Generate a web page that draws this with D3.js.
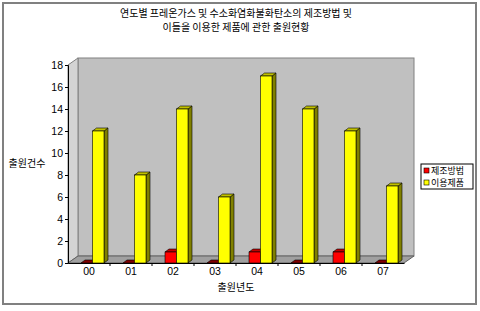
<!DOCTYPE html>
<html><head><meta charset="utf-8">
<script src="https://cdn.jsdelivr.net/npm/d3@7"></script>
<style>body{margin:0;background:#fff}svg{display:block}</style>
</head><body>
<script>
const titleLines = ["연도별 프레온가스 및 수소화염화불화탄소의 제조방법 및", "이들을 이용한 제품에 관한 출원현황"];
const categories = ["00","01","02","03","04","05","06","07"];
const seriesNames = ["제조방법","이용제품"];
const seriesMethod = [0,0,1,0,1,0,1,0];
const seriesProduct = [12,8,14,6,17,14,12,7];
const yTicks = [0,2,4,6,8,10,12,14,16,18];
const xTitle = "출원년도";
const yTitle = "출원건수";

const W=480,H=311;
const svg=d3.select("body").append("svg").attr("width",W).attr("height",H);
const font="'Noto Sans CJK KR', sans-serif";
const numFont="'Liberation Sans', Arial, sans-serif";

// outer border
svg.append("rect").attr("x",3).attr("y",3).attr("width",473).attr("height",301)
  .attr("fill","#fff").attr("stroke","#808080").attr("stroke-width",2);

const x0=68,x1=404,yb=263,yt=65;
const dx=10,dy=-7;
const x=d3.scaleBand().domain(categories).range([x0,x1]);
const xs=d3.scaleBand().domain(seriesNames).range([13,36]);
const y=d3.scaleLinear().domain([0,18]).range([yb,yt]);

// back wall
svg.append("rect").attr("x",x0+dx).attr("y",yt+dy).attr("width",x1-x0).attr("height",yb-yt)
  .attr("fill","#c0c0c0").attr("stroke","#808080").attr("stroke-width",1);
// left wall
svg.append("path").attr("d",`M${x0},${yb}L${x0},${yt}L${x0+dx},${yt+dy}L${x0+dx},${yb+dy}Z`)
  .attr("fill","#d4d4d4").attr("stroke","#808080").attr("stroke-width",1);
// floor
svg.append("path").attr("d",`M${x0},${yb}L${x0+dx},${yb+dy}L${x1+dx},${yb+dy}L${x1},${yb}Z`)
  .attr("fill","#a0a0a0").attr("stroke","#606060").attr("stroke-width",1);

// bars
const bdx=4,bdy=-3;
const colors={"제조방법":{f:"#ff0000",s:"#800000",t:"#c00000"},"이용제품":{f:"#ffff00",s:"#808000",t:"#c0c000"}};
const data=[];
categories.forEach((c,i)=>{
  data.push({c,s:"제조방법",v:seriesMethod[i]});
  data.push({c,s:"이용제품",v:seriesProduct[i]});
});
const g=svg.append("g");
data.forEach(d=>{
  const bx=x(d.c)+xs(d.s), bw=xs.bandwidth(), ty=y(d.v), by=y(0);
  const col=colors[d.s];
  g.append("path").attr("d",`M${bx+bw},${by}L${bx+bw},${ty}L${bx+bw+bdx},${ty+bdy}L${bx+bw+bdx},${by+bdy}Z`)
    .attr("fill",col.s).attr("stroke","#000").attr("stroke-width",0.6);
  g.append("path").attr("d",`M${bx},${ty}L${bx+bdx},${ty+bdy}L${bx+bw+bdx},${ty+bdy}L${bx+bw},${ty}Z`)
    .attr("fill",d.v===0?col.s:col.t).attr("stroke","#000").attr("stroke-width",0.6);
  if(d.v>0){
    g.append("rect").attr("x",bx).attr("y",ty).attr("width",bw).attr("height",by-ty)
      .attr("fill",col.f).attr("stroke","#000").attr("stroke-width",0.6);
  }
});

// y axis
const yAxis=d3.axisLeft(y).tickValues(yTicks).tickSize(3).tickPadding(2);
const ya=svg.append("g").attr("transform",`translate(${x0},0)`).call(yAxis);
ya.select(".domain").attr("stroke","#000");
ya.selectAll("text").attr("font-family",numFont).attr("font-size",10.5).attr("fill","#000");

// x axis
const xAxis=d3.axisBottom(x).tickSize(0).tickPadding(5);
const xa=svg.append("g").attr("transform",`translate(0,${yb})`).call(xAxis);
xa.select(".domain").attr("stroke","#000");
xa.selectAll("text").attr("font-family",numFont).attr("font-size",10.5).attr("fill","#000");
xa.selectAll(".bt").data(categories.slice(1)).enter().append("line")
  .attr("x1",d=>x(d)).attr("x2",d=>x(d)).attr("y1",0).attr("y2",3).attr("stroke","#000");

// titles
svg.selectAll(".title").data(titleLines).enter().append("text")
  .attr("x",236).attr("y",(d,i)=>17+i*14).attr("text-anchor","middle")
  .attr("font-family",font).attr("font-size",10).attr("fill","#000").text(d=>d);
svg.append("text").attr("x",236).attr("y",291).attr("text-anchor","middle")
  .attr("font-family",font).attr("font-size",10).text(xTitle);
svg.append("text").attr("x",27).attr("y",167).attr("text-anchor","middle")
  .attr("font-family",font).attr("font-size",10).text(yTitle);

// legend
const lg=svg.append("g");
lg.append("rect").attr("x",421).attr("y",164).attr("width",52).attr("height",25)
  .attr("fill","#fff").attr("stroke","#000").attr("stroke-width",1);
seriesNames.forEach((s,i)=>{
  lg.append("rect").attr("x",424).attr("y",168+i*12).attr("width",5).attr("height",5)
    .attr("fill",colors[s].f).attr("stroke","#000").attr("stroke-width",0.6);
  lg.append("text").attr("x",431).attr("y",174+i*12).attr("font-family",font)
    .attr("font-size",9).text(s);
});
</script>
</body></html>
